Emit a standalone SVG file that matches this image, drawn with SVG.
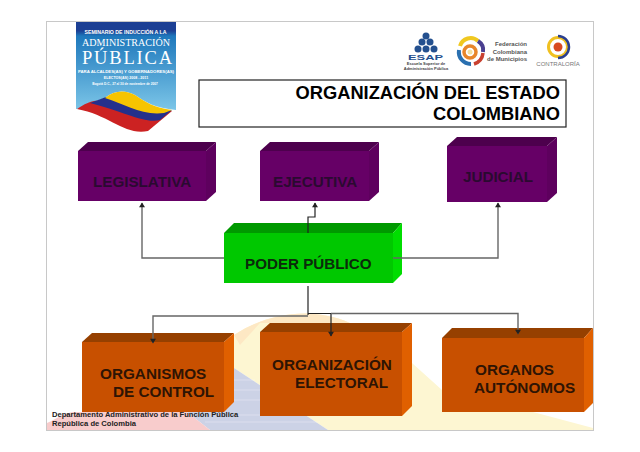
<svg xmlns="http://www.w3.org/2000/svg" width="640" height="452" viewBox="0 0 640 452">
<style>
text{font-family:"Liberation Sans",Arial,sans-serif;font-weight:bold}
.l{fill:#2a0a30;font-size:15.200px}
.o{fill:#2e1404;font-size:15.300px}
.c{fill:none;stroke:#666;stroke-width:1.400}
.d{fill:none;stroke:#222;stroke-width:1.200}
.pf{fill:#660066}.pt{fill:#4d004d}.pr{fill:#5e005e}
.of{fill:#c85000}.ot{fill:#964000}.or{fill:#e06000}
.t{fill:#000;font-size:18.300px}
.s{fill:#222;font-size:7.600px}
.w{fill:#fff}
.sf{font-family:"Liberation Serif",serif;font-weight:normal}
.g{stroke:#fff;stroke-width:.7;opacity:.45}
</style>
<defs>
<marker id="a" viewBox="0 0 8 10" refX="7" refY="5" markerWidth="7" markerHeight="6" orient="auto" markerUnits="userSpaceOnUse"><path d="M0 0L8 5L0 10z" fill="#222"/></marker>
<linearGradient id="b" x1="0" y1="0" x2="0" y2="1"><stop offset="0" stop-color="#1c3f94"/><stop offset=".1" stop-color="#1c3f94"/><stop offset=".16" stop-color="#1e78bc"/><stop offset="1" stop-color="#7cc6e8"/></linearGradient>
</defs>
<rect width="640" height="452" fill="#fff"/>
<rect x="46.500" y="21.500" width="547" height="409" fill="#fff" stroke="#c8c8c8"/>
<g id="background">
<path d="M234 335C250 325 262 320 280 316C300 312 325 312 350 323L412 363L442 390L533 412L593 428V430H328L234 368z" fill="#fdf6d2"/>
<path d="M234 335C250 325 262 320 280 316C300 312 325 312 350 323H260L240 345z" fill="#fde8c4"/>
<path d="M234 368L328 430H210L187 412H224z" fill="#ccd2e6"/>
<path d="M47 430V423C58 418 65 413 73 412H187L210 430z" fill="#f8cccc"/>
<g class="g"><path d="M224 380H255M224 390H270M224 400H285M224 415H310M205 422H320"/></g>
</g>
<g id="logo-seminario">
<path d="M76 22H176V110C155 108 145 102 135 95C125 90 115 90 105 98L90 103L77 109H76z" fill="url(#b)"/>
<path d="M77 109C85 104 92 100 98 101L172 111L148 131C125 136 110 115 77 109z" fill="#cc2222"/>
<path d="M90 103L106 97C125 100 140 115 172 110L160 120C145 124 125 112 90 103z" fill="#24308c"/>
<path d="M105 98C115 90 125 90 135 95C145 102 155 108 172 110L164 113C142 116 125 104 105 98z" fill="#f6c400"/>
<text x="125.500" y="34" font-size="5.200" text-anchor="middle" class="w">SEMINARIO DE INDUCCIÓN A LA</text>
<text x="126" y="46" font-size="11" text-anchor="middle" class="w sf" textLength="88" lengthAdjust="spacingAndGlyphs">ADMINISTRACIÓN</text>
<text x="127" y="64" font-size="18.500" text-anchor="middle" class="w sf" textLength="90">PÚBLICA</text>
<text x="126" y="73" font-size="4.300" text-anchor="middle" class="w">PARA ALCALDES(AS) Y GOBERNADORES(AS)</text>
<text x="126" y="79" font-size="3.600" text-anchor="middle" class="w">ELECTOS(AS) 2008 - 2011</text>
<text x="125" y="85" font-size="3.200" text-anchor="middle" class="w">Bogotá D.C., 27 al 30 de noviembre de 2007</text>
</g>
<g id="logo-esap">
<g fill="#24508f"><circle cx="426" cy="36" r="3.500"/><circle cx="422" cy="42" r="3.500"/><circle cx="430" cy="42" r="3.500"/><circle cx="418" cy="49" r="3.500"/><circle cx="426" cy="49" r="3.500"/><circle cx="434" cy="49" r="3.500"/></g>
<text x="425.500" y="59.500" font-size="8" text-anchor="middle" style="fill:#24508f" textLength="35" lengthAdjust="spacingAndGlyphs">ESAP</text>
<text x="426" y="65" font-size="4" text-anchor="middle" style="fill:#444">Escuela Superior de</text>
<text x="426" y="70" font-size="4" text-anchor="middle" style="fill:#444">Administración Pública</text>
</g>
<g id="logo-federacion">
<path d="M460 46A11 11 0 0 1 478 41" fill="none" stroke="#f0c820" stroke-width="4"/>
<path d="M478 41A11 11 0 0 1 483 52" fill="none" stroke="#4a3f90" stroke-width="4"/>
<path d="M483 53A13 13 0 0 1 474 64" fill="none" stroke="#c84030" stroke-width="3.500"/>
<path d="M459 50A12 12 0 0 0 471 64" fill="none" stroke="#2a70b0" stroke-width="4"/>
<circle cx="470" cy="52" r="6" fill="none" stroke="#e8862a" stroke-width="3.500"/>
<circle cx="470" cy="52" r="2.500" fill="#f4e0a0"/>
<g style="fill:#555" font-size="6" text-anchor="end"><text x="527" y="46">Federación</text><text x="527" y="53.500">Colombiana</text><text x="527" y="61">de Municipios</text></g>
</g>
<g id="logo-contraloria">
<circle cx="558" cy="47" r="9.500" fill="#fff" stroke="#f0c020" stroke-width="3"/>
<path d="M558 36A11 11 0 0 1 558 58" fill="none" stroke="#2a3f90" stroke-width="2.500"/>
<circle cx="558" cy="47" r="4.500" fill="#d84a20"/>
<text x="558" y="66" font-size="6" text-anchor="middle" style="fill:#777;font-weight:normal">CONTRALORÍA</text>
</g>
<g id="title">
<rect x="199" y="80" width="367" height="47" fill="#fff" stroke="#222" stroke-width="1.200"/>
<text class="t" x="560" y="99" text-anchor="end">ORGANIZACIÓN DEL ESTADO</text>
<text class="t" x="560" y="120" text-anchor="end">COLOMBIANO</text>
</g>
<g id="legislativa">
<path class="pt" d="M78 151L88 142H216L206 151z"/><path class="pr" d="M206 151L216 142V192L206 201z"/><rect class="pf" x="78" y="151" width="128" height="50"/>
<text class="l" x="93" y="187">LEGISLATIVA</text>
</g>
<g id="ejecutiva">
<path class="pt" d="M260 151L270 142H379L369 151z"/><path class="pr" d="M369 151L379 142V192L369 201z"/><rect class="pf" x="260" y="151" width="109" height="50"/>
<text class="l" x="273" y="187">EJECUTIVA</text>
</g>
<g id="judicial">
<path class="pt" d="M447 146L457 137H557L547 146z"/><path class="pr" d="M547 146L557 137V193L547 202z"/><rect class="pf" x="447" y="146" width="100" height="56"/>
<text class="l" x="463" y="182">JUDICIAL</text>
</g>
<g id="poder-publico">
<path d="M224 233L234 223H402L393 233z" fill="#009900"/><path d="M393 233L402 223V274L393 283z" fill="#00dd00"/><rect x="224" y="233" width="169" height="50" fill="#00c800"/>
<text x="245" y="269" font-size="15.200" style="fill:#0b2a0b">PODER PÚBLICO</text>
</g>
<g id="organismos">
<path class="ot" d="M82 342L92 333H234L224 342z"/><path class="or" d="M224 342L234 333V402L224 412z"/><rect class="of" x="82" y="342" width="142" height="70"/>
<text class="o" x="100" y="379">ORGANISMOS</text><text class="o" x="113" y="397">DE CONTROL</text>
</g>
<g id="electoral">
<path class="ot" d="M260 332L270 323H412L402 332z"/><path class="or" d="M402 332L412 323V406L402 416z"/><rect class="of" x="260" y="332" width="142" height="84"/>
<text class="o" x="272" y="370">ORGANIZACIÓN</text><text class="o" x="295" y="388">ELECTORAL</text>
</g>
<g id="autonomos">
<path class="ot" d="M442 338L452 328H593L584 338z"/><path class="or" d="M584 338L593 328V403L584 412z"/><rect class="of" x="442" y="338" width="142" height="74"/>
<text class="o" x="475" y="375">ORGANOS</text><text class="o" x="474" y="393">AUTÓNOMOS</text>
</g>
<g id="connectors">
<path class="c" d="M224 258H142V203" marker-end="url(#a)"/>
<path class="c" d="M393 258H498V203" marker-end="url(#a)"/>
<path class="d" d="M308 233V217H315V203" marker-end="url(#a)"/>
<path class="d" d="M308 286V315"/>
<path class="c" d="M308 316H153V343" marker-end="url(#a)"/>
<path class="d" d="M308 313.500H331V336" marker-end="url(#a)"/>
<path class="c" d="M331 313.500H518V334" marker-end="url(#a)"/>
</g>
<g id="footer">
<text class="s" x="52" y="417">Departamento Administrativo de la Función Pública</text>
<text class="s" x="52" y="426">República de Colombia</text>
</g>
</svg>
